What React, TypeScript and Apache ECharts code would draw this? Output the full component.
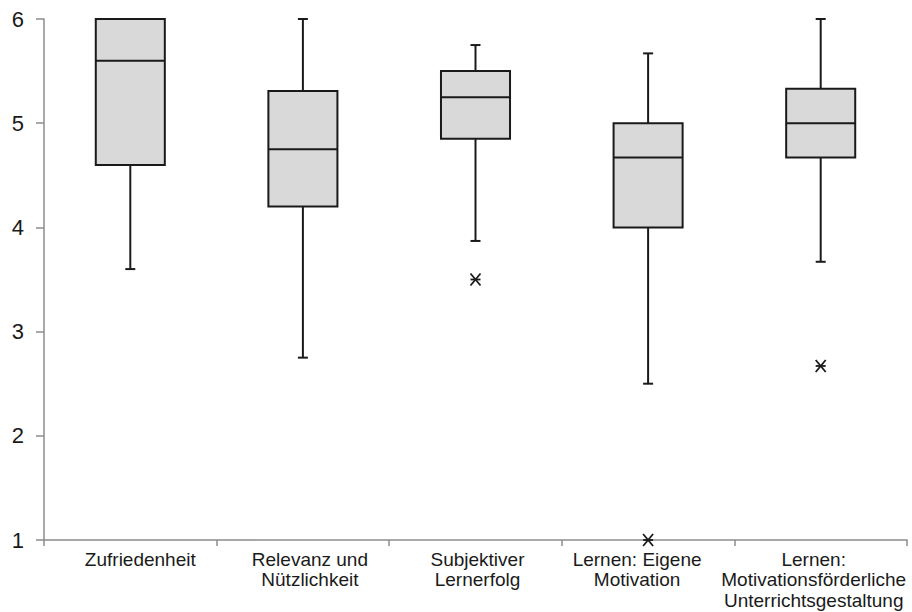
import React, { useEffect, useRef } from "react";
import * as echarts from "echarts";

const categories = [
  "Zufriedenheit",
  "Relevanz und\nNützlichkeit",
  "Subjektiver\nLernerfolg",
  "Lernen: Eigene\nMotivation",
  "Lernen:\nMotivationsförderliche\nUnterrichtsgestaltung",
];
const mins = [3.6, 2.75, 3.87, 2.5, 3.67];
const q1s = [4.6, 4.2, 4.85, 4.0, 4.67];
const medians = [5.6, 4.75, 5.25, 4.67, 5.0];
const q3s = [6.0, 5.31, 5.5, 5.0, 5.33];
const maxs = [6.0, 6.0, 5.75, 5.67, 6.0];
const outlierCats = [2, 3, 4];
const outlierValues = [3.5, 1.0, 2.67];
const yTicks = [1, 2, 3, 4, 5, 6];

// horizontal shift of each category label (px), as in the reference
const labelShift = [10, 7, 2, -11, -7];

const FONT = "'Liberation Sans', Arial, sans-serif";

export default function App() {
  const ref = useRef<HTMLDivElement>(null);
  useEffect(() => {
    if (!ref.current) return;
    const chart = echarts.init(ref.current, undefined, { renderer: "svg" });
    const boxData = categories.map((_, i) => [i, mins[i], q1s[i], medians[i], q3s[i], maxs[i]]);
    const outData = outlierCats.map((c, i) => [c, outlierValues[i]]);
    const catData = categories.map((c, i) => {
      const s = labelShift[i];
      return {
        value: c,
        textStyle: { padding: s >= 0 ? [0, 0, 0, 2 * s] : [0, -2 * s, 0, 0] },
      };
    });
    const lineStyle = { stroke: "#1a1a1a", lineWidth: 2 };
    chart.setOption({
      animation: false,
      grid: { left: 44, right: 5, top: 19, bottom: 72, containLabel: false, outerBoundsMode: "none" },
      xAxis: {
        type: "category",
        data: catData,
        boundaryGap: true,
        axisLine: { lineStyle: { color: "#8c8c8c", width: 1.5 } },
        axisTick: { show: true, length: 6, lineStyle: { color: "#8c8c8c", width: 1.5 } },
        axisLabel: {
          interval: 0,
          margin: 9,
          color: "#1a1a1a",
          fontSize: 19,
          fontFamily: FONT,
          lineHeight: 20.5,
        },
      },
      yAxis: {
        type: "value",
        min: yTicks[0],
        max: yTicks[yTicks.length - 1],
        interval: 1,
        splitLine: { show: false },
        axisLine: { show: true, lineStyle: { color: "#8c8c8c", width: 1.5 } },
        axisTick: { show: true, length: 8, lineStyle: { color: "#8c8c8c", width: 1.5 } },
        axisLabel: { color: "#1a1a1a", fontSize: 22, fontFamily: FONT, margin: 20 },
      },
      series: [
        {
          type: "custom",
          data: boxData,
          clip: false,
          renderItem: (params: any, api: any) => {
            const idx = api.value(0);
            const vMin = api.value(1);
            const vQ1 = api.value(2);
            const vMed = api.value(3);
            const vQ3 = api.value(4);
            const vMax = api.value(5);
            const band = api.size([1, 0])[0];
            const half = band * 0.2;
            const cap = 5;
            const pMin = api.coord([idx, vMin]);
            const pQ1 = api.coord([idx, vQ1]);
            const pMed = api.coord([idx, vMed]);
            const pQ3 = api.coord([idx, vQ3]);
            const pMax = api.coord([idx, vMax]);
            const cx = pQ1[0];
            const children: any[] = [];
            if (vMax > vQ3) {
              children.push({ type: "line", shape: { x1: cx, y1: pMax[1], x2: cx, y2: pQ3[1] }, style: lineStyle });
              children.push({ type: "line", shape: { x1: cx - cap, y1: pMax[1], x2: cx + cap, y2: pMax[1] }, style: lineStyle });
            }
            if (vMin < vQ1) {
              children.push({ type: "line", shape: { x1: cx, y1: pQ1[1], x2: cx, y2: pMin[1] }, style: lineStyle });
              children.push({ type: "line", shape: { x1: cx - cap, y1: pMin[1], x2: cx + cap, y2: pMin[1] }, style: lineStyle });
            }
            children.push({
              type: "rect",
              shape: { x: cx - half, y: pQ3[1], width: half * 2, height: pQ1[1] - pQ3[1] },
              style: { fill: "#d9d9d9", stroke: "#1a1a1a", lineWidth: 2 },
            });
            children.push({ type: "line", shape: { x1: cx - half, y1: pMed[1], x2: cx + half, y2: pMed[1] }, style: lineStyle });
            return { type: "group", children };
          },
        },
        {
          type: "custom",
          data: outData,
          clip: false,
          z: 5,
          renderItem: (params: any, api: any) => {
            const p = api.coord([api.value(0), api.value(1)]);
            const sx = 5;
            const sy = 6;
            const st = { stroke: "#1a1a1a", lineWidth: 1.8 };
            return {
              type: "group",
              children: [
                { type: "line", shape: { x1: p[0] - sx, y1: p[1] - sy, x2: p[0] + sx, y2: p[1] + sy }, style: st },
                { type: "line", shape: { x1: p[0] - sx, y1: p[1] + sy, x2: p[0] + sx, y2: p[1] - sy }, style: st },
                { type: "line", shape: { x1: p[0] - sx, y1: p[1], x2: p[0] + sx, y2: p[1] }, style: st },
              ],
            };
          },
        },
      ],
    });
    return () => chart.dispose();
  }, []);
  return <div ref={ref} style={{ width: 912, height: 612, position: "absolute", left: 0, top: 0 }} />;
}
